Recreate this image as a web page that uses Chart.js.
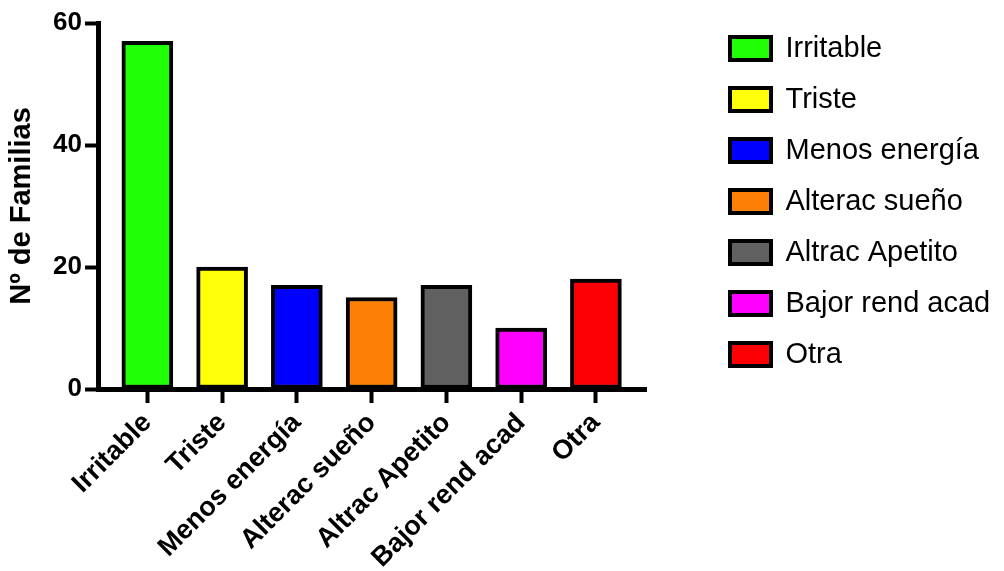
<!DOCTYPE html>
<html>
<head>
<meta charset="utf-8">
<script src="https://cdn.jsdelivr.net/npm/chart.js@4/dist/chart.umd.min.js"></script>
<style>
html,body{margin:0;padding:0;background:#fff;}
#wrap{width:1004px;height:571px;position:relative;}
</style>
</head>
<body>
<div id="wrap"><canvas id="c" width="1004" height="571"></canvas></div>
<script>
const categories = ["Irritable", "Triste", "Menos energía", "Alterac sueño", "Altrac Apetito", "Bajor rend acad", "Otra"];
const values = [57, 20, 17, 15, 17, 10, 18];
const colors = ["#21FF06", "#FFFF0A", "#0000FF", "#FC8005", "#606060", "#FF00FF", "#FC0006"];
const yTicks = [0, 20, 40, 60];
const yTitle = "Nº de Familias";

const FONT = "'Liberation Sans', Arial, Helvetica, sans-serif";

const legendPlacer = {
  id: 'legendPlacer',
  afterLayout(chart) {
    const lg = chart.legend;
    if (!lg) return;
    lg.left = 708; lg.right = 1004; lg.width = 1004 - 708;
    lg.top = 12; lg.bottom = 571; lg.height = 571 - 12;
  }
};

new Chart(document.getElementById('c'), {
  type: 'bar',
  data: {
    datasets: [{
      data: categories.map((c, i) => ({x: i, y: values[i]})),
      backgroundColor: colors,
      borderColor: '#000',
      borderWidth: 4,
      borderSkipped: false,
      barThickness: 51
    }]
  },
  options: {
    responsive: false,
    animation: false,
    layout: {padding: {top: 23, left: 0, right: 0, bottom: 0}},
    plugins: {
      tooltip: {enabled: false},
      legend: {
        position: 'right',
        align: 'start',
        labels: {
          boxWidth: 41,
          boxHeight: 23,
          padding: 22,
          color: '#000',
          font: {family: FONT, size: 29},
          generateLabels: () => categories.map((c, i) => ({
            text: c, fillStyle: colors[i], strokeStyle: '#000', lineWidth: 4,
            hidden: false, index: i, datasetIndex: 0, fontColor: '#000'
          }))
        }
      }
    },
    scales: {
      x: {
        type: 'linear',
        offset: false,
        min: -0.66,
        max: 6.67,
        afterBuildTicks: (scale) => { scale.ticks = categories.map((c, i) => ({value: i})); },
        afterFit: (scale) => { scale.height = 182; scale.paddingRight = 358; },
        border: {display: true, color: '#000', width: 5},
        grid: {display: true, offset: false, drawOnChartArea: false, drawTicks: true, tickLength: 14, tickWidth: 4, tickColor: '#000'},
        ticks: {
          autoSkip: false,
          maxRotation: 45, minRotation: 45,
          padding: 4,
          color: '#000',
          font: {family: FONT, size: 27, weight: 'bold'},
          callback: (v) => categories[v]
        }
      },
      y: {
        min: 0, max: 60,
        afterBuildTicks: (scale) => { scale.ticks = yTicks.map(v => ({value: v})); },
        afterFit: (scale) => { scale.width = 98; },
        border: {display: true, color: '#000', width: 5},
        grid: {display: true, drawOnChartArea: false, drawTicks: true, tickLength: 13, tickWidth: 4, tickColor: '#000'},
        ticks: {
          padding: 3,
          color: '#000',
          font: {family: FONT, size: 26, weight: 'bold'}
        },
        title: {
          display: true,
          text: yTitle,
          color: '#000',
          padding: {top: 5, bottom: 0},
          font: {family: FONT, size: 29, weight: 'bold'}
        }
      }
    }
  },
  plugins: [legendPlacer]
});
</script>
</body>
</html>
